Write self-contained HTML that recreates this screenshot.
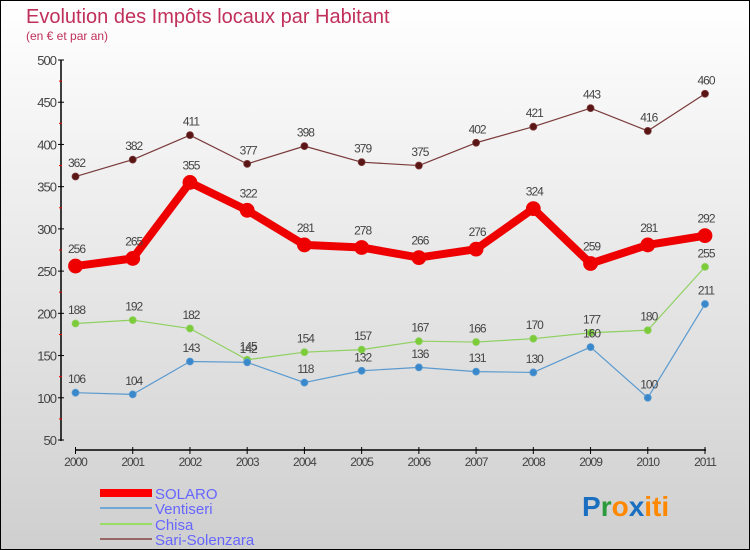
<!DOCTYPE html>
<html><head><meta charset="utf-8"><style>
body{margin:0}
#c{width:750px;height:550px;position:relative;overflow:hidden;box-sizing:border-box;border:1px solid #000;background:linear-gradient(#fff,#cfcfcf);font-family:"Liberation Sans",sans-serif}
</style></head><body>
<div id="c">
<svg id="s" width="750" height="550" style="position:absolute;left:-1px;top:-1px">
<text x="26" y="23" font-size="20" fill="#c0305a">Evolution des Impôts locaux par Habitant</text>
<text x="26" y="40" font-size="12" fill="#c0305a">(en € et par an)</text>
<g id="ax"></g><g id="ser"></g>
<g>
<rect x="100" y="489" width="52" height="8" fill="#f00"/>
<text x="155" y="499" font-size="15" fill="#6666ff">SOLARO</text>
<line x1="100" y1="508" x2="152" y2="508" stroke="#6fa8d6" stroke-width="2"/>
<text x="155" y="514" font-size="15" fill="#6666ff">Ventiseri</text>
<line x1="100" y1="524" x2="152" y2="524" stroke="#99dd66" stroke-width="2"/>
<text x="155" y="530" font-size="15" fill="#6666ff">Chisa</text>
<line x1="100" y1="539" x2="152" y2="539" stroke="#996666" stroke-width="2"/>
<text x="155" y="545" font-size="15" fill="#6666ff">Sari-Solenzara</text>
</g>
<g font-size="28" font-weight="bold">
<text x="582" y="516" fill="#1a6fc0">P<tspan fill="#2a9a3a">r</tspan><tspan fill="#ff8800">o</tspan><tspan fill="#1a6fc0">x</tspan><tspan fill="#ff8800">iti</tspan></text>
</g>
</svg>
</div>
<script>
const years=["2000","2001","2002","2003","2004","2005","2006","2007","2008","2009","2010","2011"];
const solaro=[256,265,355,322,281,278,266,276,324,259,281,292];
const ventiseri=[106,104,143,142,118,132,136,131,130,160,100,211];
const chisa=[188,192,182,145,154,157,167,166,170,177,180,255];
const sari=[362,382,411,377,398,379,375,402,421,443,416,460];
const yTicks=[50,100,150,200,250,300,350,400,450,500];
const NS="http://www.w3.org/2000/svg";
const X=i=>75.5+i*(705-75.5)/11, Y=v=>440-(v-50)*380/450;
function mk(t,a,p){const e=document.createElementNS(NS,t);for(const k in a)e.setAttribute(k,a[k]);p.appendChild(e);return e;}
const ax=document.getElementById('ax');
const ya=mk('line',{x1:61,y1:60,x2:61,y2:441,stroke:'#000','stroke-width':1.5},ax);


yTicks.forEach(v=>{
 mk('line',{x1:58,x2:64,y1:Y(v),y2:Y(v),stroke:'#000'},ax);
 if(v<500)mk('line',{x1:59,x2:62,y1:Y(v+25),y2:Y(v+25),stroke:'#e00'},ax);
 const t=mk('text',{x:56,y:Y(v)+5,'text-anchor':'end','font-size':13,fill:'#444','letter-spacing':'-1'},ax);t.textContent=v;
 
 
});
const xa=mk('line',{x1:75,y1:450,x2:706,y2:450,stroke:'#000','stroke-width':1.5},ax);


years.forEach((y,i)=>{
 mk('line',{x1:X(i),x2:X(i),y1:447,y2:454,stroke:'#000'},ax);
 const t=mk('text',{x:X(i),y:466,'text-anchor':'middle','font-size':12,fill:'#444','letter-spacing':'-1'},ax);t.textContent=y;
 
 
});
const ser=document.getElementById('ser');
function draw(d,name,col,fill,w,r){
 const g=mk('g',{},ser);
 
 
 mk('polyline',{points:d.map((v,i)=>X(i)+','+Y(v)).join(' '),fill:'none',stroke:col,'stroke-width':w,'stroke-linejoin':'round'},g);
 d.forEach((v,i)=>{
  const c=mk('circle',{cx:X(i),cy:Y(v),r:r,fill:fill,stroke:col,'stroke-width':0.8},g);
  
  
  const t=mk('text',{x:X(i)+1,y:Y(v)-(r+6),'text-anchor':'middle','font-size':12,fill:'#444','letter-spacing':'-1'},g);t.textContent=v;
  
  
 });
}
draw(sari,'sari-solenzara','#7a3a3a','#5a1515',1.2,3.5);
draw(chisa,'chisa','#8fd060','#7ccc3a',1.2,3.5);
draw(ventiseri,'ventiseri','#5a9ad0','#3a88cc',1.2,3.5);
draw(solaro,'solaro','#ee0000','#ee0000',8,7);
</script>
</body></html>
